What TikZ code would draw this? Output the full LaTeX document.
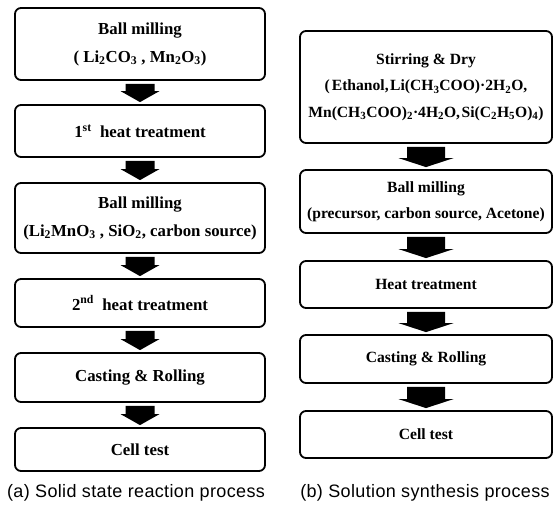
\documentclass[tikz,border=0pt]{standalone}
\usepackage{fontspec}
\setmainfont{Liberation Serif}
\newfontfamily\capfont[LetterSpace=2]{Liberation Sans}
\usetikzlibrary{calc}
\tikzset{
  lbox/.style={draw,line width=1.8pt,rounded corners=6pt,align=center,inner sep=0pt,minimum width=250pt,
    font=\bfseries\fontsize{16.8}{28}\selectfont},
  rbox/.style={draw,line width=1.8pt,rounded corners=6pt,align=center,inner sep=0pt,minimum width=252pt,
    font=\bfseries\fontsize{15.6}{26.5}\selectfont},
  captext/.style={font=\capfont\fontsize{18}{20}\selectfont,inner sep=0pt}
}
% block arrow: from, to, shaft half width, head half width, head length
\newcommand{\blockarr}[5]{%
  \fill ($(#1.south)+(-#3,3)$) -- ($(#1.south)+(#3,3)$) -- ($(#2.north)+(#3,-#5-2)$)
    -- ($(#2.north)+(#4,-#5-2)$) -- ($(#2.north)+(0,-2)$) -- ($(#2.north)+(-#4,-#5-2)$)
    -- ($(#2.north)+(-#3,-#5-2)$) -- cycle;}

\begin{document}
\begin{tikzpicture}[x=1pt,y=-1pt]
  \useasboundingbox (0,0) rectangle (557,508);
  % (a) solid state
  \node[lbox,minimum height=72pt] (l1) at (140,44) {Ball milling\\( Li\textsubscript{2}CO\textsubscript{3} , Mn\textsubscript{2}O\textsubscript{3})};
  \node[lbox,minimum height=52pt] (l2) at (140,131) {1\textsuperscript{st}\ \ heat treatment};
  \node[lbox,minimum height=70pt] (l3) at (140,218) {Ball milling\\(Li\textsubscript{2}MnO\textsubscript{3} , SiO\textsubscript{2}, carbon source)};
  \node[lbox,minimum height=48pt] (l4) at (140,303) {2\textsuperscript{nd}\ \ heat treatment};
  \node[lbox,minimum height=49pt] (l5) at (140,377.5) {Casting \& Rolling};
  \node[lbox,minimum height=43pt] (l6) at (140,449.5) {Cell test};
  \blockarr{l1}{l2}{14.5}{19.5}{11}
  \blockarr{l2}{l3}{14.5}{19.5}{11}
  \blockarr{l3}{l4}{14.5}{19.5}{11}
  \blockarr{l4}{l5}{14.5}{19.5}{11}
  \blockarr{l5}{l6}{14.5}{19.5}{11}
  % (b) solution
  \node[rbox,minimum height=112pt] (r1) at (426,87) {Stirring \& Dry\\(\hspace{2pt}Ethanol,\hspace{1.5pt}Li(CH\textsubscript{3}COO)·2H\textsubscript{2}O,\\Mn(CH\textsubscript{3}COO)\textsubscript{2}·4H\textsubscript{2}O,\hspace{1.5pt}Si(C\textsubscript{2}H\textsubscript{5}O)\textsubscript{4})};
  \node[rbox,minimum height=63pt] (r2) at (426,201.5) {Ball milling\\(precursor, carbon source, Acetone)};
  \node[rbox,minimum height=47pt] (r3) at (426,284.5) {Heat treatment};
  \node[rbox,minimum height=48pt] (r4) at (426,359) {Casting \& Rolling};
  \node[rbox,minimum height=47pt] (r5) at (426,434.5) {Cell test};
  \blockarr{r1}{r2}{19}{27.5}{9}
  \blockarr{r2}{r3}{19}{27.5}{9}
  \blockarr{r3}{r4}{19}{27.5}{9}
  \blockarr{r4}{r5}{19}{27.5}{9}
  % captions
  \node[captext] (capa) at (136,493) {(a) Solid state reaction process};
  \node[captext] (capb) at (425,493) {(b) Solution synthesis process};
\end{tikzpicture}
\end{document}
